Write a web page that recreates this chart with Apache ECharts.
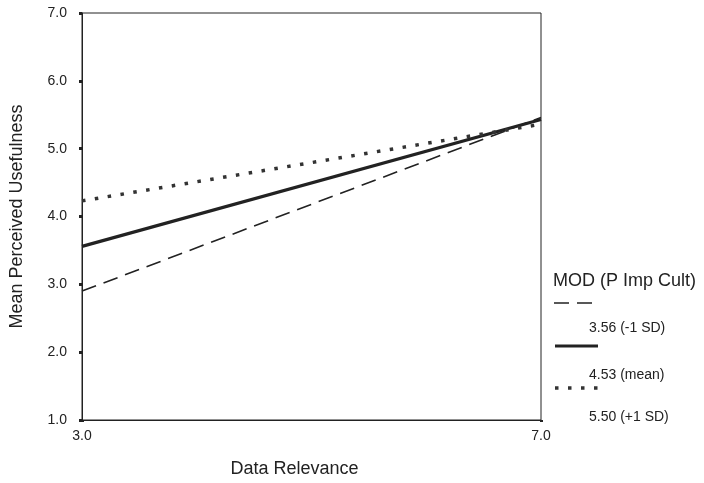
<!DOCTYPE html>
<html>
<head>
<meta charset="utf-8">
<script src="https://cdn.jsdelivr.net/npm/echarts@6/dist/echarts.min.js"></script>
<style>
  html, body { margin: 0; padding: 0; background: #fff; }
  #chart { width: 704px; height: 483px; }
</style>
</head>
<body>
<div id="chart"></div>
<script>
// Data Relevance levels (x)
const relevance = ['3.0', '7.0']
// Mean Perceived Usefulness per moderator level
const lowSD = [2.9, 5.46]    // 3.56 (-1 SD)
const meanMod = [3.56, 5.43] // 4.53 (mean)
const highSD = [4.23, 5.36]  // 5.50 (+1 SD)
const legendNames = ['3.56 (-1 SD)', '4.53 (mean)', '5.50 (+1 SD)']

const ink = '#222'
const font = '"Liberation Sans", Arial, sans-serif'

const chart = echarts.init(document.getElementById('chart'))

const option = {
  animation: false,
  backgroundColor: '#fff',
  grid: {
    left: 82, right: 163, top: 13, bottom: 61,
    show: true, borderColor: ink, borderWidth: 1
  },
  xAxis: {
    type: 'category',
    data: relevance,
    boundaryGap: false,
    name: 'Data Relevance',
    nameLocation: 'middle',
    nameGap: 40,
    nameTextStyle: { fontFamily: font, fontSize: 18, color: ink, padding: [0, 34, 0, 0] },
    axisLine: { lineStyle: { color: ink, width: 1 } },
    axisTick: { alignWithLabel: true, length: 2, lineStyle: { color: ink, width: 3 } },
    axisLabel: { fontFamily: font, fontSize: 14, color: ink, margin: 9 },
    splitLine: { show: false }
  },
  yAxis: {
    type: 'value',
    min: 1, max: 7, interval: 1,
    name: 'Mean Perceived Usefulness',
    nameLocation: 'middle',
    nameGap: 56,
    nameTextStyle: { fontFamily: font, fontSize: 18, color: ink },
    axisLine: { show: true, lineStyle: { color: ink, width: 1 } },
    axisTick: { show: true, length: 3, lineStyle: { color: ink, width: 3 } },
    axisLabel: {
      fontFamily: font, fontSize: 14, color: ink, margin: 15,
      formatter: v => v.toFixed(1)
    },
    splitLine: { show: false }
  },
  series: [
    {
      name: legendNames[0], type: 'line', data: lowSD,
      symbol: 'none',
      lineStyle: { color: ink, width: 1.6, type: [15, 8] }
    },
    {
      name: legendNames[1], type: 'line', data: meanMod,
      symbol: 'none',
      lineStyle: { color: ink, width: 3.2 }
    },
    {
      name: legendNames[2], type: 'line', data: highSD,
      symbol: 'none',
      lineStyle: { color: '#333', width: 3.5, type: [3.5, 9.5] }
    }
  ],
  graphic: [
    { type: 'text', left: 553, top: 272,
      style: { text: 'MOD (P Imp Cult)', font: '18px ' + font, fill: ink } },
    { type: 'line', shape: { x1: 554, y1: 303, x2: 599, y2: 303 },
      style: { stroke: ink, lineWidth: 1.6, lineDash: [15, 8] } },
    { type: 'text', left: 589, top: 321,
      style: { text: legendNames[0], font: '14px ' + font, fill: ink } },
    { type: 'line', shape: { x1: 555, y1: 346, x2: 598, y2: 346 },
      style: { stroke: ink, lineWidth: 3.2 } },
    { type: 'text', left: 589, top: 368,
      style: { text: legendNames[1], font: '14px ' + font, fill: ink } },
    { type: 'line', shape: { x1: 555, y1: 388, x2: 600, y2: 388 },
      style: { stroke: '#333', lineWidth: 3.5, lineDash: [3.5, 9.5] } },
    { type: 'text', left: 589, top: 410,
      style: { text: legendNames[2], font: '14px ' + font, fill: ink } }
  ]
}

chart.setOption(option)
</script>
</body>
</html>
